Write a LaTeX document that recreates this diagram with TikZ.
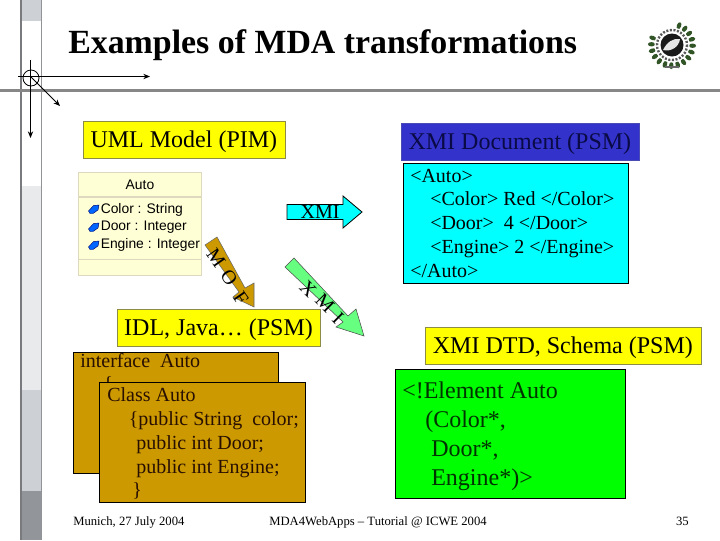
\documentclass[tikz,border=0pt]{standalone}
\usepackage{fontspec}
\setmainfont{Liberation Serif}
\newfontfamily\uifont{Liberation Sans}
\usetikzlibrary{arrows.meta}
\definecolor{gbar}{RGB}{135,135,135}
\definecolor{gbarl}{RGB}{120,122,126}
\definecolor{gbarr}{RGB}{145,147,150}
\definecolor{lbar}{RGB}{205,208,212}
\definecolor{vlbar}{RGB}{232,234,236}
\definecolor{dbar}{RGB}{146,149,154}
\definecolor{ybox}{RGB}{255,255,0}
\definecolor{yedge}{RGB}{140,140,70}
\definecolor{bluebox}{RGB}{51,51,204}
\definecolor{cyanbox}{RGB}{0,255,255}
\definecolor{goldbox}{RGB}{204,153,0}
\definecolor{greenbox}{RGB}{0,255,0}
\definecolor{mint}{RGB}{102,255,128}
\definecolor{umlfill}{RGB}{255,255,214}
\definecolor{umlline}{RGB}{222,216,190}
\definecolor{wreath}{RGB}{50,85,40}
\definecolor{navytext}{RGB}{10,10,70}
\definecolor{browntext}{RGB}{40,15,0}
\definecolor{greentext}{RGB}{0,50,0}
\tikzset{
  px/.style={x=0.75pt,y=-0.75pt},
  label box/.style={draw=yedge,line width=0.6pt,fill=ybox,inner sep=0pt,anchor=north west,text depth=1pt,font=\fontsize{18}{18}\selectfont},
  code/.style={anchor=base west,inner sep=0pt,font=\fontsize{15}{15}\selectfont},
  bigcode/.style={anchor=base west,inner sep=0pt,text=greentext,font=\fontsize{18}{18}\selectfont},
  uml/.style={anchor=base west,inner sep=0pt,font=\uifont\fontsize{10.4}{10.4}\selectfont},
  foot/.style={inner sep=0pt,font=\fontsize{9.5}{9.5}\selectfont},
  axis/.style={line width=0.6pt,-{Stealth[length=5pt,width=4pt]}},
  panel/.style={draw=black,line width=0.7pt,anchor=north west,inner sep=0pt},
  slant/.style={inner sep=0pt,font=\fontsize{15}{15}\selectfont},
  icon/.style={fill=blue!60!cyan,draw=blue!40!black,line width=0.3pt},
}
\begin{document}
\begin{tikzpicture}[px]
\useasboundingbox (0,0) rectangle (720,540);
\fill[white] (0,0) rectangle (720,540);
% decorative bars
\fill[lbar] (22,0) rectangle (41,21);
\fill[vlbar] (22,186) rectangle (41,390);
\fill[lbar] (22,390) rectangle (41,491);
\fill[dbar] (22,491) rectangle (41,540);
\fill[gbarl] (20,0) rectangle (22,540);
\fill[gbarr] (40.5,0) rectangle (42,540);
\fill[gbar] (0,89) rectangle (720,92);
\node[inner sep=0pt,anchor=base west,font=\bfseries\fontsize{25.4}{25.4}\selectfont] (title) at (68,53) {Examples of MDA transformations};
% axes
\coordinate (o) at (31,78);
\coordinate (ox) at (18,76.5);
\coordinate (oxe) at (150,76.5);
\coordinate (oy) at (30.5,60);
\coordinate (oye) at (30.5,138);
\coordinate (oz) at (31,77);
\coordinate (oze) at (60,106);
\draw[line width=0.6pt] (o) circle (8);
\draw[axis] (ox) -- (oxe);
\draw[axis] (oy) -- (oye);
\draw[axis] (oz) -- (oze);
% logo
\foreach \a in {45,63,...,315}{
  \fill[wreath,rotate around={\a+25:(672,45)}] (672,24.5) ellipse (2.2 and 3.6);
}
\fill[white] (672,45) circle (17.5);
\draw[black!65,line width=1.8pt,dash pattern=on 1.5pt off 1.2pt] (672,45) circle (15);
\fill[black!90] (672,45) circle (11.5);
\fill[white!90!black] (663,50) .. controls (667,42) and (673,38) .. (680,39) .. controls (679,47) and (671,52) .. (663,50) -- cycle;
\draw[black!60,line width=1pt] (665,67) -- (679,67);
% headers
\node[label box,minimum width=151.5pt,minimum height=27.75pt] (uml) at (82.5,120.5) {UML Model (PIM)};
\node[label box,draw=bluebox!70!gray,fill=bluebox,text=navytext,minimum width=178.5pt,minimum height=27.75pt] (xmidoc) at (400.5,122.5) {XMI Document (PSM)};
% UML class
\fill[umlfill,draw=umlline,line width=0.8pt] (78.5,172.5) rectangle (201.5,275.5);
\draw[umlline,line width=0.8pt] (78.5,197) -- (201.5,197) (78.5,259.5) -- (201.5,259.5);
\node[inner sep=0pt,font=\uifont\fontsize{10.4}{10.4}\selectfont] (auto) at (140,185) {Auto};
\node[uml] (a1) at (100.5,213) {Color : String};
\node[uml] (a2) at (100.5,230.5) {Door : Integer};
\node[uml] (a3) at (100.5,248) {Engine : Integer};
\foreach \yy in {209,227,245}{
  \fill[icon,shift={(94,\yy)}] (-5.5,2) -- (-0.5,-3.5) -- (5,-4) -- (4,1) -- (-1,4.5) -- (-4,4.5) -- cycle;
}
% cyan doc
\node[panel,fill=cyanbox,minimum width=168.75pt,minimum height=90pt] (doc) at (402.5,162.5) {};
\node[code] (d1) at (410,182) {<Auto>};
\node[code] (d2) at (430,205.5) {<Color> Red </Color>};
\node[code] (d3) at (430,229.5) {<Door>\ \ 4 </Door>};
\node[code] (d4) at (430,253.5) {<Engine> 2 </Engine>};
\node[code] (d5) at (410,277) {</Auto>};
% XMI arrow
\fill[cyanbox,draw=black,line width=0.6pt] (287,204.5) -- (343,204.5) -- (343,196) -- (362,212) -- (343,228) -- (343,219.5) -- (287,219.5) -- cycle;
\node[inner sep=0pt,font=\fontsize{15}{15}\selectfont] (xmil) at (320,212) {XMI};
% MOF arrow
\fill[goldbox,draw=black!60,line width=0.4pt] (205,245) -- (217,237) -- (245,288) -- (254,283) -- (254,307) -- (233,297) -- (239,292) -- cycle;
\node[slant,rotate=-55] (m) at (216,258) {M};
\node[slant,rotate=-55] (o2) at (229,278) {O};
\node[slant,rotate=-55] (f) at (241,298) {F};
% XMI green arrow
\fill[mint,draw=black!70,line width=0.4pt] (285,267) -- (294,258) -- (348,316) -- (356,309) -- (364,336) -- (336,327) -- (343,322) -- cycle;
\node[slant,rotate=-45] (x2) at (308,289) {X};
\node[slant,rotate=-45] (m2) at (325,303) {M};
\node[slant,rotate=-45] (i2) at (338,318) {I};
% IDL box
\node[label box,minimum width=152.5pt,minimum height=27.75pt] (idl) at (116.5,308.5) {IDL, Java… (PSM)};
% right DTD
\node[label box,minimum width=207pt,minimum height=27.75pt] (dtd) at (424.5,326.5) {XMI DTD, Schema (PSM)};
% green box
\node[panel,fill=greenbox,minimum width=172.5pt,minimum height=97pt] (grn) at (394.5,368.5) {};
\node[bigcode] (g1) at (402,398) {<!Element Auto};
\node[bigcode] (g2) at (425,427) {(Color*,};
\node[bigcode] (g3) at (431,456) {Door*,};
\node[bigcode] (g4) at (431,485) {Engine*)>};
% gold boxes
\node[panel,fill=goldbox,minimum width=153.75pt,minimum height=91pt] (if) at (72.5,351.5) {};
\node[code,text=browntext] (i1) at (80,367) {interface\ \ Auto};
\node[code,text=browntext] (brace) at (103,390) {\{};
\node[panel,fill=goldbox,minimum width=154.5pt,minimum height=90.5pt] (cls) at (98.5,381.5) {};
\node[code,text=browntext] (c1) at (107,401) {Class Auto};
\node[code,text=browntext] (c2) at (128.5,425) {\{public String\ \ color;};
\node[code,text=browntext] (c3) at (136,449) {public int Door;};
\node[code,text=browntext] (c4) at (136,473) {public int Engine;};
\node[code,text=browntext] (c5) at (132,496) {\}};
% footer
\node[foot,anchor=base west] (f1) at (73,525) {Munich, 27 July 2004};
\node[foot,anchor=base] (f2) at (378,525) {MDA4WebApps -- Tutorial @ ICWE 2004};
\node[foot,anchor=base east] (f3) at (689,525) {35};
\end{tikzpicture}
\end{document}
